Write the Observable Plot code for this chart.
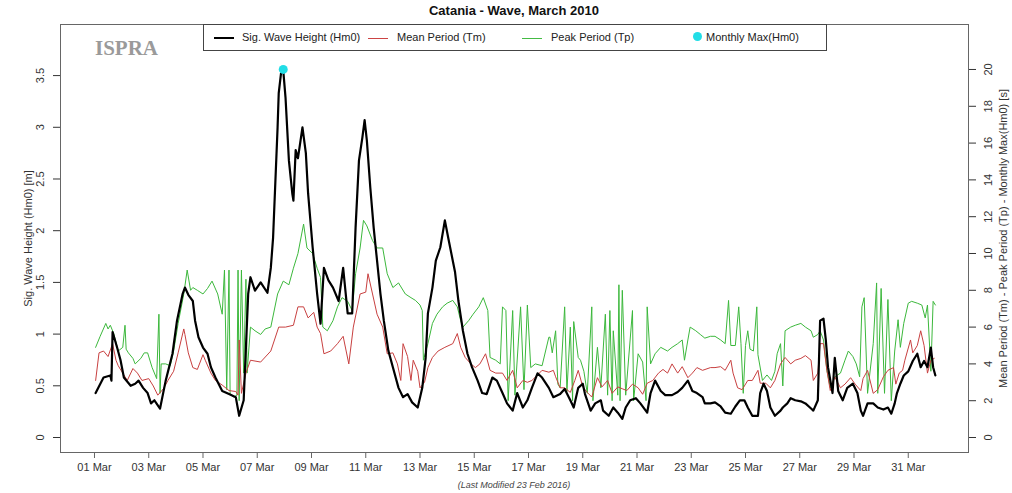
<!DOCTYPE html>
<html><head><meta charset="utf-8">
<script src="https://cdn.jsdelivr.net/npm/d3@7"></script>
<script src="https://cdn.jsdelivr.net/npm/@observablehq/plot@0.6"></script>
<style>
body{margin:0;background:#fff;font-family:"Liberation Sans",Arial,sans-serif;}
#wrap{position:relative;width:1012px;height:493px;overflow:hidden;}
#title{height:22px;line-height:22px;text-align:center;font-weight:bold;font-size:13px;color:#111;padding:0 44px 0 60px;box-sizing:border-box;}
#chart{height:456px;}
#caption{text-align:center;font-style:italic;font-size:9px;line-height:15px;color:#444;padding:0 44px 0 60px;box-sizing:border-box;}
#legend{position:absolute;left:203px;top:24px;width:624px;height:27px;border:1px solid #444;box-sizing:border-box;background:#fff;font-size:11px;color:#222;}
#legend .ln{position:absolute;width:20px;}
#legend .tx{position:absolute;top:6px;line-height:13px;white-space:nowrap;}
#legend .dt{position:absolute;width:9px;height:9px;border-radius:50%;background:#22dde6;top:7px;}
#ispra{position:absolute;left:95px;top:36px;font-family:"Liberation Serif","DejaVu Serif",serif;font-weight:bold;font-size:21px;color:#9a9a9a;}
</style></head>
<body>
<div id="wrap">
  <div id="title">Catania - Wave, March 2010</div>
  <div id="chart"></div>
  <div id="caption">(Last Modified 23 Feb 2016)</div>
  <div id="ispra">ISPRA</div>
  <div id="legend">
    <div class="ln" style="left:10px;top:12px;height:2px;background:#000"></div>
    <div class="tx" style="left:38px">Sig. Wave Height (Hm0)</div>
    <div class="ln" style="left:164px;top:13px;height:1px;background:#cc4444"></div>
    <div class="tx" style="left:193px">Mean Period (Tm)</div>
    <div class="ln" style="left:318px;top:13px;height:1px;background:#44bb44"></div>
    <div class="tx" style="left:347px">Peak Period (Tp)</div>
    <div class="dt" style="left:489px"></div>
    <div class="tx" style="left:502px">Monthly Max(Hm0)</div>
  </div>
</div>
<script>
// hours since 01 Mar 2010 00:00
const hm0Hours = [1,8,14,15,16,20,23,26,32,36,39,43,47,50,53,58,63,69,73,78,80,83,87,89,92,96,100,103,107,113,119,125,128,132,136,138,142,147,153,156,158,162,163,165,167,169,172,175,176,178,180,184,187,189,193,197,200,203,207,211,216,220,224,228,231,234,237,239,241,244,247,250,253,256,260,264,269,273,277,281,286,290,293,295,299,302,306,310,313,317,319,322,326,330,334,339,343,347,352,356,361,365,370,374,379,383,387,392,396,402,406,412,416,421,424,428,432,434,439,443,448,450,455,459,463,467,470,474,479,483,489,492,496,501,505,511,516,520,525,529,533,538,540,545,549,554,558,563,567,571,575,578,582,587,589,592,595,598,602,607,609,613,616,620,625,629,634,636,640,642,645,647,649,653,655,658,662,666,671,675,678,680,684,689,693,698,702,705,708,710,713,716,720,724,728,731,734,737,740,742,744];
const hm0Values = [0.43,0.58,0.6,0.55,1.02,0.87,0.75,0.58,0.5,0.52,0.55,0.48,0.43,0.33,0.36,0.28,0.55,0.81,1.13,1.39,1.45,1.38,1.32,1.13,0.97,0.87,0.81,0.68,0.58,0.45,0.42,0.39,0.21,0.36,1.39,1.55,1.42,1.5,1.4,1.64,1.93,3.0,3.33,3.52,3.55,3.29,2.68,2.36,2.29,2.78,2.7,3.0,2.75,2.36,1.84,1.39,1.1,1.64,1.52,1.45,1.32,1.64,1.2,1.2,2.03,2.68,2.9,3.07,2.87,2.42,2.03,1.71,1.39,1.13,0.84,0.68,0.48,0.39,0.42,0.34,0.29,0.48,0.77,1.2,1.45,1.71,1.84,2.1,1.93,1.71,1.6,1.32,1.03,0.81,0.68,0.55,0.43,0.42,0.58,0.55,0.43,0.33,0.26,0.43,0.29,0.36,0.48,0.62,0.58,0.48,0.39,0.42,0.47,0.36,0.29,0.48,0.52,0.42,0.26,0.33,0.36,0.26,0.21,0.29,0.24,0.18,0.29,0.36,0.38,0.33,0.24,0.43,0.55,0.45,0.41,0.41,0.44,0.48,0.55,0.45,0.43,0.39,0.33,0.33,0.34,0.3,0.24,0.23,0.3,0.36,0.36,0.29,0.21,0.21,0.43,0.52,0.45,0.29,0.21,0.26,0.29,0.33,0.38,0.36,0.35,0.33,0.28,0.26,0.36,1.13,1.15,0.95,0.68,0.43,0.77,0.45,0.36,0.48,0.52,0.43,0.26,0.21,0.33,0.33,0.29,0.27,0.29,0.23,0.33,0.43,0.52,0.6,0.64,0.74,0.81,0.68,0.74,0.68,0.87,0.68,0.6];

const tmHours = [1,4,8,12,16,19,21,25,29,34,38,42,48,52,56,61,65,70,74,79,80,83,87,91,96,98,103,107,113,119,125,127,128,130,134,138,147,156,163,169,176,180,185,189,194,197,200,203,209,215,220,225,229,235,240,242,246,250,255,259,264,268,271,273,277,280,282,286,288,292,295,299,304,310,317,321,324,328,333,337,341,346,350,355,361,365,370,374,379,383,387,392,396,402,406,408,412,416,421,425,428,432,436,440,445,449,454,458,463,467,471,476,481,485,489,494,499,503,507,511,516,520,525,529,533,538,545,549,554,558,563,565,569,573,578,582,587,589,594,598,602,607,611,616,620,625,629,634,636,640,642,645,648,651,655,660,664,669,673,678,680,684,689,693,698,702,707,709,712,715,717,722,724,728,731,734,737,740,743];
const tmValues = [3.1,4.6,4.7,4.4,5.1,4.2,3.9,3.5,3.1,3.75,3.5,3.1,3.2,2.8,2.3,2.65,3.1,3.6,4.6,5.9,5.6,4.6,3.8,3.7,4.5,4.2,3.5,3.1,2.85,2.55,2.5,2.3,5.3,2.4,3.5,4.2,4.1,4.7,6.0,6.0,6.1,7.1,7.1,6.5,6.8,6.0,5.65,4.55,4.7,5.1,5.5,4.0,6.0,7.8,7.9,8.9,7.8,6.7,6.0,4.55,4.6,4.0,3.1,5.1,4.4,3.1,4.2,3.6,2.7,3.0,3.8,4.35,4.7,4.9,5.1,5.65,4.9,4.35,4.0,3.8,4.0,4.55,3.65,3.5,3.5,3.1,3.65,2.7,3.1,3.0,3.1,3.4,3.65,3.55,3.65,3.3,2.7,2.7,2.45,3.1,3.65,2.75,2.45,2.2,3.25,2.75,3.1,2.4,2.75,2.65,2.55,2.9,2.7,2.35,2.95,3.1,3.5,3.7,3.5,4.0,3.5,3.85,3.25,3.5,3.8,3.65,3.8,3.8,3.85,3.65,4.2,3.5,2.7,2.6,3.1,3.1,3.65,2.95,2.95,2.7,3.1,4.0,4.35,4.0,4.2,4.3,4.45,4.2,3.1,3.5,5.1,5.1,3.65,2.55,3.3,2.7,2.9,3.25,2.9,2.55,3.2,3.65,2.4,2.6,3.3,3.65,3.8,2.9,3.5,3.65,4.2,5.3,4.6,5.0,5.8,5.0,3.5,4.2,4.3];

const tpHours = [1,5,10,12,14,17,21,25,27,28,30,34,36,41,44,47,51,55,57,58,59,63,67,70,74,79,82,85,87,91,96,100,104,109,113,115,117,119,120,123,126,127,128,130,132,134,135,138,142,147,151,156,162,167,172,176,180,185,188,193,197,200,202,206,211,215,219,224,228,231,235,238,241,246,250,255,259,264,269,275,280,284,288,290,291,295,299,303,308,312,317,321,324,326,331,335,340,344,348,350,355,359,361,364,366,370,372,377,380,383,386,390,396,402,403,405,408,410,412,416,418,421,423,424,428,430,433,436,440,441,445,448,452,454,456,458,459,463,464,465,467,470,476,477,481,485,488,489,492,496,501,507,511,516,520,522,525,527,532,536,540,545,549,554,558,561,563,567,570,572,574,576,578,580,583,586,587,591,595,599,602,604,607,609,611,616,620,625,629,634,636,640,642,645,648,651,655,660,664,667,671,674,677,679,681,684,689,692,693,696,699,702,705,708,711,713,716,720,723,728,732,735,737,740,742,744];
const tpValues = [4.9,5.5,6.2,5.9,6.1,5.65,4.7,4.9,6.1,4.8,4.6,4.3,4.0,4.3,4.6,4.6,3.8,3.2,6.7,2.4,4.0,4.0,3.9,4.7,6.2,7.8,9.1,8.0,8.15,8.0,7.8,8.1,8.5,7.8,6.7,9.1,2.6,9.1,2.4,2.2,2.3,9.1,2.0,9.1,3.5,8.6,3.5,6.0,5.8,5.6,5.9,6.0,7.8,8.5,8.3,9.2,10.0,11.6,10.3,10.0,9.2,8.7,6.0,5.8,6.35,7.1,7.6,7.4,6.9,8.9,10.3,11.8,11.5,10.7,10.3,10.3,8.9,8.15,8.4,7.8,7.6,7.45,7.2,6.9,4.2,5.1,6.2,6.7,7.1,7.3,7.45,7.1,6.35,6.0,6.35,6.7,7.1,7.6,6.9,4.35,4.2,4.0,7.1,6.9,2.0,6.9,2.3,7.1,2.6,7.2,3.8,4.0,3.9,5.45,5.45,4.6,5.8,2.9,2.7,7.1,2.5,6.0,2.0,6.3,4.35,4.2,3.6,2.4,7.1,2.0,4.9,2.7,6.7,2.3,6.9,2.0,5.8,2.3,8.3,2.0,8.0,2.3,6.9,2.0,4.55,4.1,2.0,7.1,4.0,4.55,4.9,4.7,4.9,5.1,5.3,4.2,5.3,6.0,5.8,5.6,5.4,5.5,5.5,5.3,5.1,7.45,5.0,5.0,7.1,5.1,2.4,5.0,5.8,4.8,4.7,7.1,4.5,3.1,3.4,3.1,3.6,4.55,5.1,2.8,5.8,6.0,6.1,6.2,6.0,5.8,5.45,5.6,5.8,5.3,3.65,2.7,3.3,3.5,4.2,4.7,4.4,4.0,3.3,7.1,7.6,2.4,5.1,8.4,2.4,8.1,2.4,7.5,2.0,4.7,6.4,4.9,6.2,7.3,7.4,7.3,7.2,6.5,7.2,3.6,7.4,7.2];

const monthlyMaxHour = [167];
const monthlyMaxValue = [3.56];

const xTickHours = [0,48,96,144,192,240,288,336,384,432,480,528,576,624,672,720];
const xTickLabels = ["01 Mar","03 Mar","05 Mar","07 Mar","09 Mar","11 Mar","13 Mar","15 Mar","17 Mar","19 Mar","21 Mar","23 Mar","25 Mar","27 Mar","29 Mar","31 Mar"];
const hm0Ticks = [0,0.5,1,1.5,2,2.5,3,3.5];
const periodTicks = [0,2,4,6,8,10,12,14,16,18,20];

// right (period) axis shares the frame: seconds -> metres-equivalent
const ratio = 18.4 / 103.4;

const chart = Plot.plot({
  width: 1012, height: 456,
  marginTop: 2, marginBottom: 26, marginLeft: 60, marginRight: 44,
  x: {domain: [-30.08, 773.3]},
  y: {domain: [-0.145, 3.994]},
  style: {fontFamily: "'Liberation Sans', Arial, sans-serif", fontSize: "11px", color: "#333", background: "#fff"},
  marks: [
    Plot.line(tpValues, {x: tpHours, y: d => d * ratio, stroke: "#3cb83c", strokeWidth: 1}),
    Plot.line(tmValues, {x: tmHours, y: d => d * ratio, stroke: "#c84040", strokeWidth: 1}),
    Plot.line(hm0Values, {x: hm0Hours, y: d => d, stroke: "#000", strokeWidth: 2.2}),
    Plot.dot(monthlyMaxValue, {x: monthlyMaxHour, y: d => d, r: 4.5, fill: "#22dde6"}),
    Plot.frame({stroke: "#666"}),
    Plot.axisX({ticks: xTickHours, tickFormat: d => xTickLabels[Math.round(d / 48)], tickSize: 6, tickPadding: 5, label: null, stroke: "#666"}),
    Plot.axisY({anchor: "left", ticks: hm0Ticks, tickFormat: d => String(d), tickSize: 7, tickPadding: 13, tickRotate: -90, textAnchor: "middle", lineAnchor: "middle", label: null}),
    Plot.axisY({anchor: "right", ticks: periodTicks.map(t => t * ratio), tickFormat: d => String(Math.round(d / ratio)), tickSize: 7, tickPadding: 13, tickRotate: -90, textAnchor: "middle", lineAnchor: "middle", label: null}),
    Plot.text(["Sig. Wave Height (Hm0) [m]"], {frameAnchor: "left", dx: -32, rotate: -90, textAnchor: "middle", lineAnchor: "middle", fill: "#333", fontSize: 11}),
    Plot.text(["Mean Period (Tm) - Peak Period (Tp) - Monthly Max(Hm0) [s]"], {frameAnchor: "right", dx: 35, rotate: -90, textAnchor: "middle", lineAnchor: "middle", fill: "#333", fontSize: 11})
  ]
});
document.getElementById("chart").appendChild(chart);
</script>
</body></html>
